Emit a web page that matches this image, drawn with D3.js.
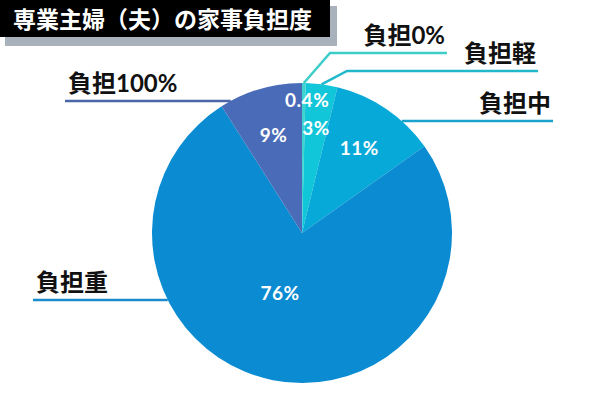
<!DOCTYPE html>
<html lang="ja">
  <head>
    <meta charset="UTF-8" />
    <title>専業主婦（夫）の家事負担度</title>
    <script src="https://d3js.org/d3.v7.min.js"></script>
    <style>
      body { margin: 0; background: #fff; }
    </style>
  </head>
  <body>
    <svg width="600" height="400"></svg>

    <script>
      // データ
      const categories = ["負担0%", "負担軽", "負担中", "負担重", "負担100%"];
      const shares = [0.4, 3.4, 11.4, 75.8, 9.0];
      const title = "専業主婦（夫）の家事負担度";

      const sliceColors = ["#3ed3cf", "#12c6d9", "#07a9d8", "#0a8bd2", "#4a6bb7"];
      const lineColors = ["#3ccdc8", "#20b9cc", "#1aa3cc", "#1a8bcc", "#4a68a8"];

      const svg = d3.select("svg");
      const cx = 302, cy = 233, r = 150;
      const jp = "'Noto Sans CJK JP', 'Noto Sans', sans-serif";

      // タイトル
      svg.append("rect").attr("x", 5).attr("y", 6).attr("width", 332).attr("height", 40).attr("fill", "#a9b1bd");
      svg.append("rect").attr("x", 0).attr("y", 0).attr("width", 330).attr("height", 37).attr("fill", "#000");
      svg.append("text")
        .attr("x", 13).attr("y", 28)
        .attr("fill", "#fff")
        .style("font-family", jp).style("font-weight", 700).style("font-size", "23px")
        .text(title);

      const pie = d3.pie().sort(null).value(d => d);
      const arcs = pie(shares);
      const arc = d3.arc().innerRadius(0).outerRadius(r);

      const g = svg.append("g").attr("transform", `translate(${cx}, ${cy})`);

      g.selectAll("path")
        .data(arcs)
        .join("path")
        .attr("d", arc)
        .attr("fill", (d, i) => sliceColors[i]);

      // 円の中のラベル（半径は各スライスごと）
      const labelRadius = [133, 106, 102, 64, 102];
      const labelShift = [1.5, 0, 0, 9, 0]; // 角度の微調整（度）
      g.selectAll("text.pct")
        .data(arcs)
        .join("text")
        .attr("class", "pct")
        .attr("transform", (d, i) => {
          const a = (d.startAngle + d.endAngle) / 2 + labelShift[i] * Math.PI / 180;
          const lr = labelRadius[i];
          return `translate(${Math.sin(a) * lr}, ${-Math.cos(a) * lr})`;
        })
        .attr("text-anchor", "middle")
        .attr("dy", "0.36em")
        .attr("fill", "#fff")
        .style("font-family", "Lato, 'Noto Sans', sans-serif")
        .style("font-weight", 700)
        .style("font-size", "19px")
        .style("letter-spacing", "0.5px")
        .text(d => (d.value < 1 ? d.value : Math.round(d.value)) + "%");

      // 引き出し線とラベル
      // angle: 円周上の起点（度）、elbow: 折れ点 [x, y] / null、lineY, endX
      const leaders = [
        { angle: 0.7, elbow: [330, 53], endX: 447, anchor: "end" },
        { angle: 7.5, elbow: [347, 71], endX: 538, anchor: "end" },
        { lineY: 121, endX: 553, anchor: "end" },
        { lineY: 300, endX: 33, anchor: "start" },
        { lineY: 101, endX: 65, anchor: "start" }
      ];

      leaders.forEach((L, i) => {
        let pts;
        if (L.elbow) {
          const a = L.angle * Math.PI / 180;
          const sx = cx + Math.sin(a) * r, sy = cy - Math.cos(a) * r;
          pts = [[sx, sy], L.elbow, [L.endX, L.elbow[1]]];
        } else {
          const dy = L.lineY - cy;
          const dx = Math.sqrt(r * r - dy * dy) * (L.anchor === "end" ? 1 : -1);
          pts = [[cx + dx, L.lineY], [L.endX, L.lineY]];
        }
        svg.append("path")
          .attr("d", d3.line()(pts))
          .attr("fill", "none")
          .attr("stroke", lineColors[i])
          .attr("stroke-width", 2.5);

        const y = pts[pts.length - 1][1];
        svg.append("text")
          .attr("x", L.anchor === "end" ? L.endX - 2 : L.endX + 3)
          .attr("y", y - 9)
          .attr("text-anchor", L.anchor)
          .attr("fill", "#111")
          .style("font-family", "Lato, " + jp)
          .style("font-weight", 700)
          .style("font-size", "24px")
          .text(categories[i]);
      });
    </script>
  </body>
</html>
